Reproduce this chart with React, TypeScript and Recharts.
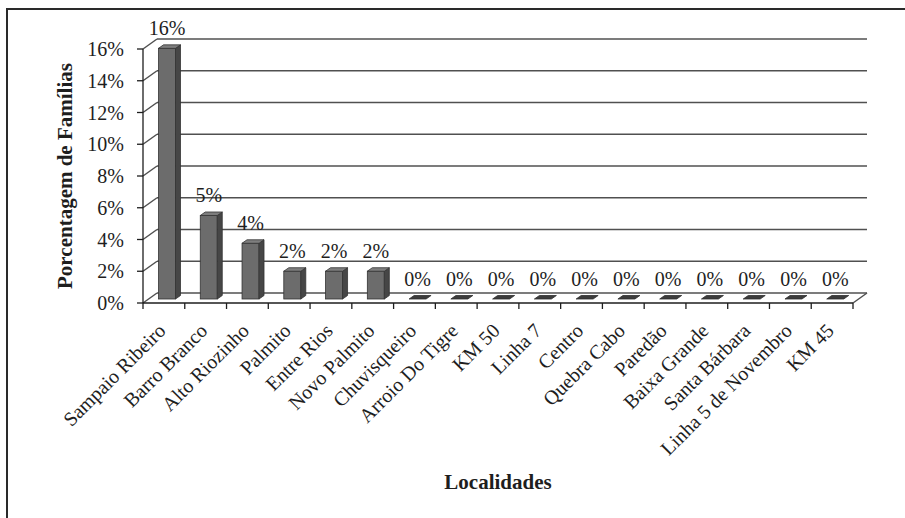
import { Bar, BarChart, CartesianGrid, Label, LabelList, XAxis, YAxis } from "recharts";

const categories = [
  "Sampaio Ribeiro",
  "Barro Branco",
  "Alto Riozinho",
  "Palmito",
  "Entre Rios",
  "Novo Palmito",
  "Chuvisqueiro",
  "Arroio Do Tigre",
  "KM 50",
  "Linha 7",
  "Centro",
  "Quebra Cabo",
  "Paredão",
  "Baixa Grande",
  "Santa Bárbara",
  "Linha 5 de Novembro",
  "KM 45",
];

// share of families per locality (%)
const percentages = [15.79, 5.26, 3.51, 1.75, 1.75, 1.75, 0, 0, 0, 0, 0, 0, 0, 0, 0, 0, 0];

const yTicks = [0, 2, 4, 6, 8, 10, 12, 14, 16];

const data = categories.map((name, i) => ({ name, value: percentages[i] }));

const W = 905;
const H = 518;
const MARGIN = { top: 49, right: 52, bottom: 15, left: 63 };
const Y_AXIS_W = 80;
const X_AXIS_H = H - MARGIN.top - MARGIN.bottom - 254;
const PLOT_W = W - MARGIN.left - Y_AXIS_W - MARGIN.right;
const BAND = PLOT_W / categories.length;

// 3D look: back wall depth, and how the bars sit inside it
const WALL_DX = 14;
const WALL_DY = 10;
const BAR_DX = 3.5;
const BAR_DY = -4;
const SIDE_DX = 5;
const SIDE_DY = 3.5;

const FONT = "'Liberation Serif', 'Times New Roman', serif";
const INK = "#1e1e1e";
const GRID = "#505050";

const Column3D = (props: any) => {
  const { x, y, width, height } = props;
  const fx = x + BAR_DX;
  const fy = y + BAR_DY;
  const h = Math.max(0, height);
  if (h < 0.5) {
    const b = fy + h;
    return (
      <polygon
        points={`${fx},${b} ${fx + width},${b} ${fx + width + SIDE_DX},${b - SIDE_DY} ${fx + SIDE_DX},${b - SIDE_DY}`}
        fill="#3c3c3c"
        stroke="#2e2e2e"
        strokeWidth={0.8}
      />
    );
  }
  return (
    <g stroke="#333" strokeWidth={0.8}>
      <rect x={fx} y={fy} width={width} height={h} fill="#6c6c6c" />
      <polygon
        points={`${fx + width},${fy} ${fx + width + SIDE_DX},${fy - SIDE_DY} ${fx + width + SIDE_DX},${fy + h - SIDE_DY} ${fx + width},${fy + h}`}
        fill="#464646"
      />
      <polygon
        points={`${fx},${fy} ${fx + SIDE_DX},${fy - SIDE_DY} ${fx + width + SIDE_DX},${fy - SIDE_DY} ${fx + width},${fy}`}
        fill="#7e7e7e"
      />
    </g>
  );
};

const ValueLabel = (props: any) => {
  const { x, y, width, value } = props;
  return (
    <text
      x={x + width / 2 + BAR_DX}
      y={y + BAR_DY - SIDE_DY - 10}
      textAnchor="middle"
      fontFamily={FONT}
      fontSize={20}
      fill={INK}
    >
      {`${Math.round(value)}%`}
    </text>
  );
};

// back wall / floor lines, pushed back by the wall depth
const WallLine = (props: any) => {
  const { x1, x2, y1, index } = props;
  return (
    <g key={`wall-${index}`} stroke={GRID} strokeWidth={1.5}>
      <line x1={x1 + WALL_DX} y1={y1 - WALL_DY} x2={x2 + WALL_DX} y2={y1 - WALL_DY} />
      <line x1={x1} y1={y1} x2={x1 + WALL_DX} y2={y1 - WALL_DY} />
      {index === 0 && <line x1={x2} y1={y1} x2={x2 + WALL_DX} y2={y1 - WALL_DY} />}
    </g>
  );
};

const CategoryTick = (props: any) => {
  const { x, y, payload, index } = props;
  const half = BAND / 2;
  const tx = x + 3;
  const ty = y + 23;
  return (
    <g>
      {index === 0 && <line x1={x - half} y1={y - 6} x2={x - half} y2={y} stroke={INK} strokeWidth={1.3} />}
      <line x1={x + half} y1={y - 6} x2={x + half} y2={y} stroke={INK} strokeWidth={1.3} />
      <text
        x={tx}
        y={ty}
        transform={`rotate(-45, ${tx}, ${ty})`}
        textAnchor="end"
        fontFamily={FONT}
        fontSize={20}
        fill={INK}
      >
        {payload.value}
      </text>
    </g>
  );
};

const YTitle = (props: any) => {
  const { viewBox } = props;
  const cx = viewBox.x + 9;
  const cy = viewBox.y + viewBox.height / 2;
  return (
    <text
      x={cx}
      y={cy}
      transform={`rotate(-90, ${cx}, ${cy})`}
      textAnchor="middle"
      fontFamily={FONT}
      fontSize={21}
      fontWeight="bold"
      fill={INK}
    >
      Porcentagem de Famílias
    </text>
  );
};

const XTitle = (props: any) => {
  const { viewBox } = props;
  return (
    <text
      x={viewBox.x + viewBox.width / 2}
      y={viewBox.y + 186}
      textAnchor="middle"
      fontFamily={FONT}
      fontSize={21}
      fontWeight="bold"
      fill={INK}
    >
      Localidades
    </text>
  );
};

export default function App() {
  return (
    <div style={{ position: "absolute", left: 0, top: 0, width: W, height: H, background: "#fff" }}>
      <div
        style={{
          position: "absolute",
          left: 6,
          top: 8,
          right: 0,
          bottom: 0,
          borderTop: "2px solid #2a2a2a",
          borderLeft: "2px solid #2a2a2a",
        }}
      />
      <BarChart width={W} height={H} data={data} margin={MARGIN} barSize={17}>
        <CartesianGrid vertical={false} horizontal={WallLine} />
        <XAxis
          dataKey="name"
          interval={0}
          height={X_AXIS_H}
          tickSize={6}
          tickMargin={0}
          tickLine={false}
          tick={CategoryTick}
          axisLine={{ stroke: INK, strokeWidth: 1.3 }}
        >
          <Label content={XTitle} />
        </XAxis>
        <YAxis
          width={Y_AXIS_W}
          domain={[0, 16]}
          ticks={yTicks}
          interval={0}
          tickFormatter={(v: number) => `${v}%`}
          tickSize={6}
          tickMargin={13}
          tick={{ fontFamily: FONT, fontSize: 20, fill: INK }}
          tickLine={{ stroke: INK, strokeWidth: 1.3 }}
          axisLine={{ stroke: INK, strokeWidth: 1.3 }}
        >
          <Label content={YTitle} />
        </YAxis>
        <Bar dataKey="value" shape={Column3D} isAnimationActive={false}>
          <LabelList dataKey="value" content={ValueLabel} />
        </Bar>
      </BarChart>
    </div>
  );
}
